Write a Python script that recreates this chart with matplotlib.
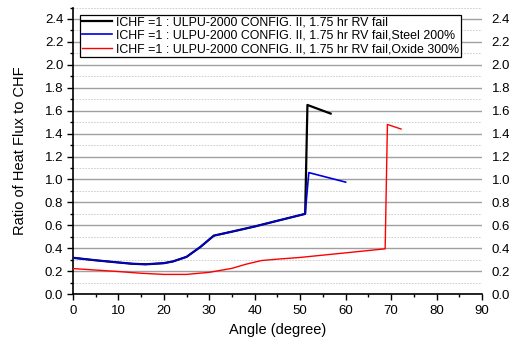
import matplotlib
matplotlib.use("Agg")
import matplotlib.pyplot as plt
from matplotlib.ticker import MultipleLocator

plt.rcParams['font.family'] = ['Liberation Sans', 'DejaVu Sans']

# Data
black_x = [0, 5, 10, 13, 16, 20, 22, 25, 28, 31, 35, 40, 45, 51.1, 51.6, 56.7]
black_y = [0.317, 0.295, 0.276, 0.265, 0.26, 0.27, 0.285, 0.325, 0.41, 0.51, 0.545, 0.59, 0.64, 0.70, 1.65, 1.575]

blue_x = [0, 5, 10, 13, 16, 20, 22, 25, 28, 31, 35, 40, 45, 51.1, 51.9, 60.0]
blue_y = [0.317, 0.295, 0.276, 0.265, 0.26, 0.27, 0.285, 0.325, 0.41, 0.51, 0.545, 0.59, 0.64, 0.70, 1.06, 0.977]

red_x = [0, 5, 10, 15, 20, 25, 30, 35, 38, 41.5, 45, 50, 60, 68.7, 69.2, 72.2]
red_y = [0.223, 0.21, 0.197, 0.182, 0.172, 0.172, 0.19, 0.225, 0.26, 0.293, 0.305, 0.32, 0.36, 0.395, 1.48, 1.44]

labels = [
    "ICHF =1 : ULPU-2000 CONFIG. II, 1.75 hr RV fail",
    "ICHF =1 : ULPU-2000 CONFIG. II, 1.75 hr RV fail,Steel 200%",
    "ICHF =1 : ULPU-2000 CONFIG. II, 1.75 hr RV fail,Oxide 300%",
]

fig = plt.figure(figsize=(5.1, 3.42), dpi=100)
ax = fig.add_axes([0.143, 0.140, 0.802, 0.838])

ax.plot(black_x, black_y, color='black', lw=1.6, label=labels[0], zorder=3)
ax.plot(blue_x, blue_y, color='#0000dd', lw=1.2, label=labels[1], zorder=4)
ax.plot(red_x, red_y, color='#ff0000', lw=1.0, label=labels[2], zorder=3)

ax.set_xlim(0, 90)
ax.set_ylim(0, 2.5)
ax.xaxis.set_major_locator(MultipleLocator(10))
ax.xaxis.set_minor_locator(MultipleLocator(5))
ax.yaxis.set_minor_locator(MultipleLocator(0.1))
ax.set_yticks([i * 0.2 for i in range(13)])
ax.set_yticklabels([f"{i*0.2:.1f}" for i in range(13)])

ax.grid(which='major', axis='y', color='#a0a0a0', lw=1.0, ls='-')
ax.grid(which='minor', axis='y', color='#c8c8c8', lw=0.6, ls=(0, (2, 1.5)))
ax.set_axisbelow(True)

for s in ['top', 'right']:
    ax.spines[s].set_visible(False)
ax.spines['left'].set_linewidth(1.2)
ax.spines['bottom'].set_linewidth(1.2)

ax.tick_params(which='major', direction='out', length=4, width=1.0, labelsize=9.5)
ax.tick_params(which='minor', direction='out', length=2.5, width=1.0)
ax.tick_params(axis='y', which='major', right=False, labelright=True, pad=3)
ax.tick_params(axis='y', which='minor', right=False)

ax.set_xlabel("Angle (degree)", fontsize=10.5, labelpad=5)
ax.set_ylabel("Ratio of Heat Flux to CHF", fontsize=10.5, labelpad=13)

leg = ax.legend(loc='upper left', bbox_to_anchor=(0.018, 0.975), fontsize=8.9,
                frameon=True, fancybox=False, edgecolor='black', framealpha=1,
                handlelength=2.4, handletextpad=0.3, borderpad=0.15, labelspacing=0.1,
                borderaxespad=0)
leg.get_frame().set_linewidth(0.9)

fig.savefig("out.png", dpi=100)
